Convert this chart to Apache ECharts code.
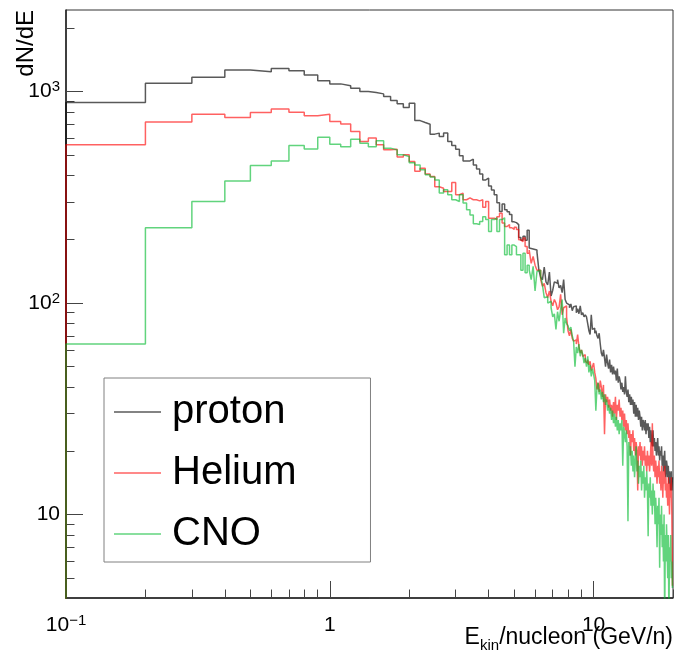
<!DOCTYPE html>
<html>
<head>
	<meta charset="utf-8">
	<title>dN/dE</title>
</head>
<body style="margin:0;background:#fff;">
	<div style="width:675px;height:656px;" id="chart1"></div>

	<script src="https://cdn.jsdelivr.net/npm/echarts@6/dist/echarts.min.js"></script>
	<script>
	// histogram binning: 0.1 GeV/n wide bins, first visible bin starts at 0.1
	var firstEdge = 0.1, binWidth = 0.1;
	var underflow = 1; // bin 0.0-0.1 is empty, line starts from the bottom

	var xLabelValues = [0.1, 1, 10];
	var xMajorTicks = [1, 10];
	var xMinorTicks = [0.2, 0.3, 0.4, 0.5, 0.6, 0.7, 0.8, 0.9, 2, 3, 4, 5, 6, 7, 8, 9, 20];
	var yLabelValues = [10, 100, 1000];
	var yMinorTicks = [5, 6, 7, 8, 9, 20, 30, 40, 50, 60, 70, 80, 90,
		200, 300, 400, 500, 600, 700, 800, 900, 2000];

	var seriesNames = ['proton', 'Helium', 'CNO'];

	// one row per GeV/n (first row: 0.1 - 0.9)
	var proton = [
		887, 1096, 1169, 1266, 1239, 1285, 1253, 1199, 1124,
		1087, 1064, 1038, 1000, 989, 975, 947, 907, 875, 840,
		881, 729, 714, 701, 629, 636, 613, 636, 581, 556,
		534, 497, 470, 470, 479, 450, 430, 408, 382, 390,
		358, 342, 325, 298, 271, 294, 276, 270, 262, 242,
		240, 235, 204, 198, 207, 198, 221, 182, 180, 178,
		178, 174, 144, 132, 129, 148, 126, 122, 140, 108,
		115, 126, 124, 129, 118, 121, 112, 129, 104, 100,
		98, 95, 99, 92, 96, 97, 90, 94, 89, 97,
		88, 90, 86, 88, 86, 80, 74, 71, 88, 75,
		76, 72, 74, 70, 68, 72, 64, 58, 56, 60,
		55, 50, 57, 52, 49, 54, 47, 51, 46, 50,
		46, 48, 43, 49, 42, 45, 43, 39, 42, 38,
		40, 37, 45, 38, 36, 39, 34, 37, 33, 36,
		33, 35, 30, 34, 29, 33, 29, 32, 28, 31,
		29, 26, 29, 25, 28, 27, 25, 28, 24, 27,
		25, 27, 23, 26, 22, 25, 22, 21, 25, 21,
		23, 20, 22, 19, 21, 23, 19, 21, 18, 20,
		19, 21, 17, 19, 16, 18, 20, 16, 15, 18,
		17, 15, 17, 14, 16, 15, 13, 16, 13, 15
	];
	var helium = [
		560, 717, 782, 753, 796, 826, 799, 768, 782,
		722, 703, 647, 581, 603, 560, 530, 534, 490, 502,
		467, 420, 434, 408, 397, 355, 349, 337, 337, 372,
		325, 331, 308, 314, 308, 308, 304, 308, 284, 302,
		252, 252, 248, 256, 266, 239, 230, 235, 227, 223,
		228, 223, 199, 195, 203, 185, 172, 178, 154, 166,
		151, 143, 143, 129, 120, 124, 112, 106, 114, 102,
		97, 104, 100, 93, 96, 110, 88, 95, 97, 86,
		74, 70, 75, 68, 66, 67, 64, 71, 62, 58,
		60, 56, 57, 53, 52, 54, 51, 53, 48, 50,
		52, 47, 44, 39, 42, 38, 43, 40, 36, 41,
		24, 37, 34, 36, 32, 35, 31, 33, 29, 34,
		30, 36, 28, 33, 31, 35, 29, 32, 28, 31,
		26, 30, 25, 28, 24, 27, 23, 25, 19, 24,
		22, 25, 20, 23, 19, 22, 20, 13, 21, 19,
		22, 18, 21, 17, 20, 18, 21, 17, 19, 16,
		20, 17, 19, 16, 18, 22, 17, 27, 18, 16,
		19, 15, 18, 16, 14, 17, 15, 18, 14, 16,
		13, 17, 15, 12, 16, 14, 17, 13, 15, 12,
		14, 11, 15, 13, 10, 14, 12, 15, 10, 4.6
	];
	var cno = [
		64, 227, 302, 378, 447, 470, 556, 535, 608,
		564, 549, 595, 570, 549, 585, 540, 530, 502, 493,
		460, 450, 427, 404, 394, 382, 331, 343, 325, 308,
		302, 325, 297, 276, 261, 237, 235, 243, 256, 248,
		218, 248, 253, 218, 248, 253, 169, 188, 169, 188,
		185, 169, 169, 143, 172, 139, 151, 143, 129, 149,
		114, 141, 143, 134, 122, 106, 107, 100, 102, 95,
		86, 89, 75, 91, 82, 93, 104, 72, 85, 80,
		78, 74, 77, 70, 66, 50, 62, 58, 64, 56,
		60, 57, 52, 55, 50, 56, 47, 51, 45, 49,
		46, 43, 31, 40, 42, 37, 39, 35, 38, 34,
		37, 33, 35, 31, 33, 30, 32, 28, 31, 27,
		30, 26, 29, 25, 28, 24, 27, 25, 28, 17,
		26, 24, 22, 25, 21, 9.3, 22, 19, 21, 17,
		20, 16, 19, 15, 18, 21, 16, 18, 14, 17,
		15, 18, 13, 16, 14, 17, 12, 15, 13, 16,
		13, 7.9, 14, 12, 15, 11, 13, 10, 14, 11,
		13, 9, 12, 10, 7, 11, 9, 12, 5.6, 10,
		8, 11, 7, 9, 6, 10, 3, 8, 6, 9,
		7, 5, 8, 3, 7, 6, 8, 5, 6, 4.5
	];

	var font = '"Liberation Sans", Arial, Helvetica, sans-serif';

	// step line through the bin edges
	function histPoints(vals) {
		var pts = [[firstEdge, underflow]];
		for (var i = 0; i < vals.length; i++) {
			pts.push([+(firstEdge + i * binWidth).toFixed(1), vals[i]]);
		}
		pts.push([+(firstEdge + vals.length * binWidth).toFixed(1), vals[vals.length - 1]]);
		return pts;
	}

	function powLabel(v) {
		if (v === 1) return '{b|1}';
		if (v === 10) return '{b|10}';
		var e = Math.round(Math.log(v) / Math.LN10);
		return '{b|10}{s|' + (e < 0 ? '\u2212' + (-e) : e) + '}';
	}

	var labelRich = {
		b: { fontSize: 21, fontFamily: font, color: '#000', lineHeight: 24 },
		s: { fontSize: 15, fontFamily: font, color: '#000', verticalAlign: 'top', lineHeight: 15 }
	};

	var xMin = 0.1, xMax = 20, yMin = 4.03, yMax = 2430;
	var tickStyle = { color: '#444', width: 1 };

	var myChart = echarts.init(document.getElementById('chart1'));

	var option = {
		animation: false,
		backgroundColor: '#fff',
		grid: {
			left: 66, right: 2, top: 10, bottom: 58,
			show: true, borderColor: '#333', borderWidth: 1
		},
		legend: {
			data: seriesNames.map(function (n) { return { name: n, icon: 'rect' }; }),
			orient: 'vertical',
			left: 104, top: 378,
			padding: [14, 74, 8, 10],
			itemGap: 21,
			itemWidth: 47, itemHeight: 1.5,
			backgroundColor: '#fff',
			borderColor: '#808080', borderWidth: 1,
			textStyle: { fontSize: 40, lineHeight: 40, fontFamily: font, color: '#000', padding: [0, 0, 0, 6] }
		},
		xAxis: [{
			type: 'log', min: xMin, max: xMax,
			axisLine: { show: true, onZero: false, lineStyle: { color: '#222', width: 1.5 } },
			axisTick: { show: true, inside: true, length: 17, customValues: xMajorTicks, lineStyle: tickStyle },
			axisLabel: { show: true, customValues: xLabelValues, margin: 15, formatter: powLabel, rich: labelRich },
			splitLine: { show: false }
		}, {
			type: 'log', min: xMin, max: xMax, position: 'bottom',
			axisLine: { show: false, onZero: false },
			axisTick: { show: true, inside: true, length: 8.5, customValues: xMinorTicks, lineStyle: tickStyle },
			axisLabel: { show: false },
			splitLine: { show: false }
		}],
		yAxis: [{
			type: 'log', min: yMin, max: yMax,
			axisLine: { show: true, onZero: false, lineStyle: { color: '#222', width: 1.5 } },
			axisTick: { show: true, inside: true, length: 17, customValues: yLabelValues, lineStyle: tickStyle },
			axisLabel: { show: true, customValues: yLabelValues, margin: 6, formatter: powLabel, rich: labelRich },
			splitLine: { show: false }
		}, {
			type: 'log', min: yMin, max: yMax, position: 'left',
			axisLine: { show: false, onZero: false },
			axisTick: { show: true, inside: true, length: 8.5, customValues: yMinorTicks, lineStyle: tickStyle },
			axisLabel: { show: false },
			splitLine: { show: false }
		}],
		graphic: [{
			type: 'text', x: 26, y: 10, rotation: Math.PI / 2,
			style: { text: 'dN/dE', font: '24px ' + font, fill: '#000', align: 'right', verticalAlign: 'middle' }
		}, {
			type: 'text', x: 673, y: 623,
			style: {
				text: '{t|E}{k|kin}{t|/nucleon (GeV/n)}',
				align: 'right', verticalAlign: 'top',
				rich: {
					t: { fontSize: 23, fontFamily: font, fill: '#000', lineHeight: 30 },
					k: { fontSize: 15, fontFamily: font, fill: '#000', lineHeight: 15, verticalAlign: 'bottom' }
				}
			}
		}],
		series: [{
			name: 'proton', type: 'line', step: 'end', symbol: 'none',
			data: histPoints(proton),
			lineStyle: { color: 'rgba(0,0,0,0.65)', width: 1.5 },
			itemStyle: { color: 'rgba(0,0,0,0.65)' }
		}, {
			name: 'Helium', type: 'line', step: 'end', symbol: 'none',
			data: histPoints(helium),
			lineStyle: { color: 'rgba(255,0,0,0.62)', width: 1.5 },
			itemStyle: { color: 'rgba(255,0,0,0.62)' }
		}, {
			name: 'CNO', type: 'line', step: 'end', symbol: 'none',
			data: histPoints(cno),
			lineStyle: { color: 'rgba(0,185,45,0.62)', width: 1.5 },
			itemStyle: { color: 'rgba(0,185,45,0.62)' }
		}]
	};

	myChart.setOption(option);
	</script>
</body>
</html>
